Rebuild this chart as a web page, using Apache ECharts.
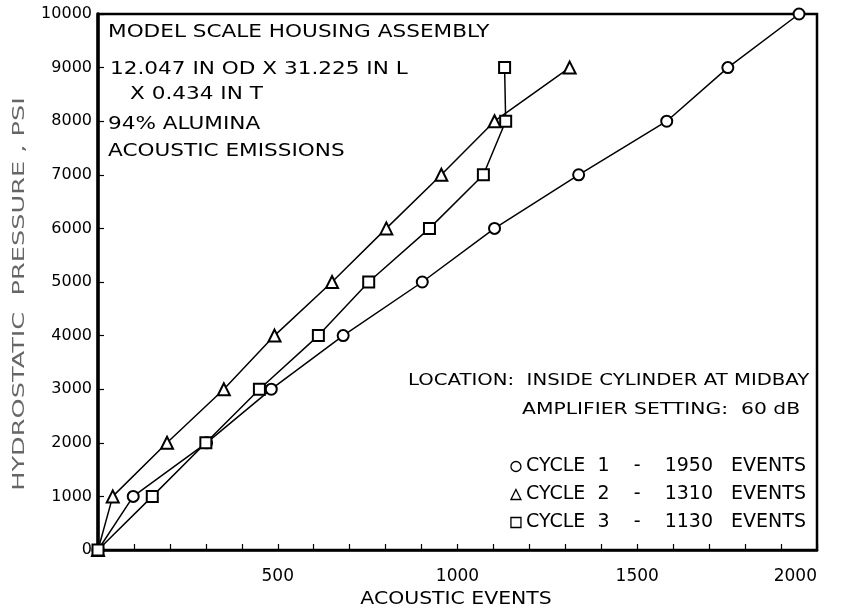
<!DOCTYPE html>
<html>
<head>
<meta charset="utf-8">
<script src="https://cdn.jsdelivr.net/npm/echarts@6/dist/echarts.min.js"></script>
<style>
html,body{margin:0;padding:0;background:#fff;}
#c{width:853px;height:616px;}
</style>
</head>
<body>
<div id="c"></div>
<script>
// Data
const pressure = [0, 1000, 2000, 3000, 4000, 5000, 6000, 7000, 8000, 9000, 10000];
const cycle1Events = [0, 98, 302, 482, 682, 902, 1103, 1337, 1582, 1752, 1950];
const cycle2Events = [0, 41, 192, 350, 491, 651, 802, 955, 1103, 1312];
const cycle3Events = [0, 151, 300, 449, 613, 753, 922, 1072, 1134, 1131];
const seriesNames = ['CYCLE  1    -    1950   EVENTS', 'CYCLE  2    -    1310   EVENTS', 'CYCLE  3    -    1130   EVENTS'];
const seriesSymbols = ['emptyCircle', 'emptyTriangle', 'emptyRect'];
const legendIcons = ['circle', 'triangle', 'rect'];
const xTickLabels = [500, 1000, 1500, 2000];
const infoLines = ['MODEL SCALE HOUSING ASSEMBLY', '12.047 IN OD X 31.225 IN L', 'X 0.434 IN T', '94% ALUMINA', 'ACOUSTIC EMISSIONS'];
const locationLines = ['LOCATION:  INSIDE CYLINDER AT MIDBAY', 'AMPLIFIER SETTING:  60 dB'];
const xAxisTitle = 'ACOUSTIC EVENTS';
const yAxisTitle = 'HYDROSTATIC  PRESSURE , PSI';

const FONT = 'DejaVu Sans';
const eventsSets = [cycle1Events, cycle2Events, cycle3Events];

const series = eventsSets.map((ev, i) => ({
  name: seriesNames[i],
  type: 'line',
  data: ev.map((x, j) => [x, pressure[j]]),
  symbol: seriesSymbols[i],
  symbolSize: i === 1 ? 12 : 11,
  showAllSymbol: true,
  lineStyle: { color: '#000', width: 1.5 },
  itemStyle: { color: '#000', borderColor: '#000', borderWidth: 1.5 },
  animation: false
}));

// annotation placement (layout only)
const infoPos = [[108, 33], [110, 70], [130, 95], [108, 125], [108, 152]];
const locPos = [[408, 381], [522, 410]];

const graphics = [];
infoLines.forEach((t, i) => graphics.push({
  type: 'text', x: infoPos[i][0], y: infoPos[i][1], scaleX: 1.27,
  style: { text: t, font: '17px "DejaVu Sans"', fill: '#000', verticalAlign: 'middle', align: 'left' }
}));
locationLines.forEach((t, i) => graphics.push({
  type: 'text', x: locPos[i][0], y: locPos[i][1], scaleX: [1.23, 1.27][i],
  style: { text: t, font: '16px "DejaVu Sans"', fill: '#000', verticalAlign: 'middle', align: 'left' }
}));
graphics.push({
  type: 'text', x: 456, y: 600, scaleX: 1.2,
  style: { text: xAxisTitle, font: '17px "DejaVu Sans"', fill: '#000', verticalAlign: 'middle', align: 'center' }
});
graphics.push({
  type: 'text', x: 20, y: 294, rotation: Math.PI / 2, scaleX: 1.6,
  style: { text: yAxisTitle, font: '16px "DejaVu Sans"', fill: '#666', verticalAlign: 'middle', align: 'center' }
});

const chart = echarts.init(document.getElementById('c'));
chart.setOption({
  backgroundColor: '#fff',
  animation: false,
  grid: { left: 98, right: 36, top: 14, bottom: 66, show: true, borderColor: '#000', borderWidth: 2.5 },
  xAxis: {
    type: 'value', min: 0, max: 2000, interval: 100,
    axisLine: { lineStyle: { color: '#000', width: 2.5 } },
    axisTick: { inside: true, length: 6, lineStyle: { color: '#000', width: 1.2 } },
    axisLabel: {
      fontFamily: FONT, fontSize: 17, color: '#000', margin: 18,
      alignMaxLabel: 'right',
      formatter: v => (xTickLabels.indexOf(v) >= 0 ? String(v) : '')
    },
    splitLine: { show: false }
  },
  yAxis: {
    type: 'value', min: 0, max: 10000, interval: 1000,
    axisLine: { lineStyle: { color: '#000', width: 3.5 } },
    axisTick: { inside: true, length: 6, lineStyle: { color: '#000', width: 1.2 } },
    axisLabel: { fontFamily: FONT, fontSize: 16, color: '#000', margin: 6, formatter: v => String(v) },
    splitLine: { show: false }
  },
  legend: {
    orient: 'vertical', right: 42, top: 452, itemGap: 9,
    itemWidth: 10, itemHeight: 10,
    align: 'left',
    data: seriesNames.map((n, i) => ({ name: n, icon: legendIcons[i] })),
    itemStyle: { color: '#fff', borderColor: '#000', borderWidth: 1.3 },
    textStyle: { fontFamily: FONT, fontSize: 19, color: '#000' },
    selectedMode: false
  },
  graphic: graphics,
  series: series
});
</script>
</body>
</html>
